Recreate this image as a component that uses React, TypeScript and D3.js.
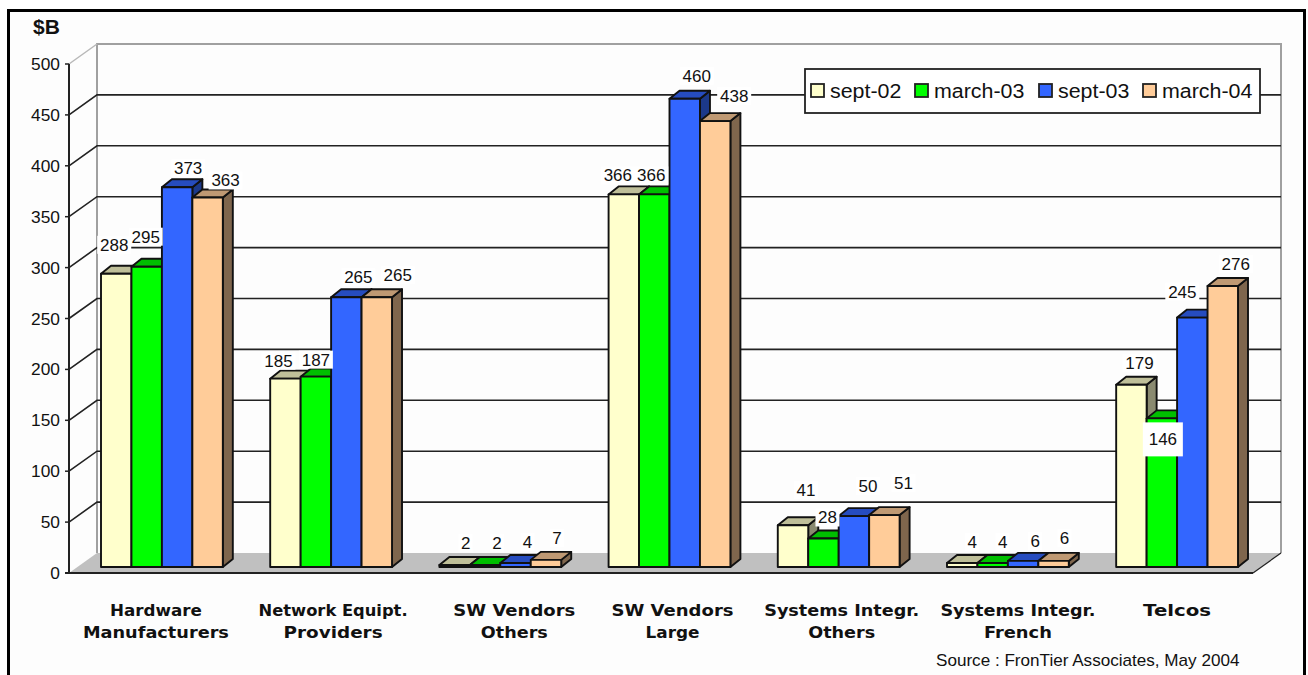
import React from "react";
import * as d3 from "d3";

const categories = [
  ["Hardware", "Manufacturers"],
  ["Network Equipt.", "Providers"],
  ["SW Vendors", "Others"],
  ["SW Vendors", "Large"],
  ["Systems Integr.", "Others"],
  ["Systems Integr.", "French"],
  ["Telcos"],
];
const seriesNames = ["sept-02", "march-03", "sept-03", "march-04"];
const sept02 = [288, 185, 2, 366, 41, 4, 179];
const march03 = [295, 187, 2, 366, 28, 4, 146];
const sept03 = [373, 265, 4, 460, 50, 6, 245];
const march04 = [363, 265, 7, 438, 51, 6, 276];
const yTicks = [0, 50, 100, 150, 200, 250, 300, 350, 400, 450, 500];

// Label placement relative to the top of its bar (group, then series): [dx, dy]
const labelNudges = [
  [[-2, -29], [-1, -30], [11, -19], [18, -17]],
  [[-7, -18], [0, -17], [12, -20], [21, -22]],
  [[11, -22], [12, -22], [12, -21], [11, -22]],
  [[-6, -19], [-3, -19], [12, -23], [19, -25]],
  [[13, -35], [4, -21], [14, -30], [19, -32]],
  [[10, -21], [10, -21], [12, -20], [11, -23]],
  [[8, -22], [1, 21], [-10, -26], [13, -22]],
];
const legendSwatchX = [811, 915, 1039, 1143];
const categoryShift = [-6, 2, 14, 3, 3, 10, 0];
const categoryWidths = [[92, 146], [149, 99], [122, 67], [122, 54], [155, 67], [155, 68], [68]];

const values = [sept02, march03, sept03, march04];
const fronts = ["#FFFFCC", "#00FF00", "#3366FF", "#FFCC99"];
const tops = ["#BFBF99", "#00BF00", "#264CBF", "#BF9973"];
const sides = ["#8A8A70", "#008A00", "#1C398A", "#7F664D"];

const W = 1308, H = 675;
const axisX = 69, axisBaseY = 573, axisTopY = 64;
const wallDx = 28, wallDy = -20;
const floorRight = 1253;
const barDx = 4, barDy = -6, depthDx = 10, depthDy = -8;
const sans = "'Liberation Sans', Arial, sans-serif";

const yAxis = d3.scaleLinear().domain([0, 500]).range([axisBaseY, axisTopY]);
const groupX = d3.scaleBand<number>()
  .domain(d3.range(categories.length))
  .range([97, 1234])
  .paddingInner(0.28)
  .paddingOuter(0);
const barX = d3.scaleBand<number>().domain(d3.range(4)).range([0, groupX.bandwidth()]);

const STROKE = "#111";

function Stretched({ x, y, sx = 1, anchor = "middle", size, weight, family = sans, fill = "#111", children }: any) {
  return (
    <text transform={`translate(${x},${y}) scale(${sx},1)`} textAnchor={anchor}
      fontFamily={family} fontSize={size} fontWeight={weight} fill={fill}>{children}</text>
  );
}

export default function App() {
  const back = (v: number) => yAxis(v) + wallDy;
  const poly = (pts: number[][]) => pts.map((p) => p.join(",")).join(" ");
  return (
    <svg width={W} height={H} style={{ position: "absolute", left: 0, top: 0, display: "block" }}>
      <rect width={W} height={H} fill="#fff" />
      <path d={`M8.5,675V10.5H1304.5V675`} fill="#fdfdfd" stroke="#000" strokeWidth={3} />

      {/* walls */}
      <polygon points={poly([[axisX, axisBaseY], [axisX + wallDx, back(0)], [floorRight + wallDx, back(0)], [floorRight, axisBaseY]])} fill="#C0C0C0" />
      <path d={`M${axisX + wallDx},${back(0)}V${back(500)}H${floorRight + wallDx}V${back(0)}`} fill="none" stroke="#A0A0A0" strokeWidth={2} />
      <path d={`M${axisX},${yAxis(500)}L${axisX + wallDx},${back(500)}`} stroke="#B8B8B8" strokeWidth={1.5} fill="none" />

      {yTicks.filter((t) => t > 0 && t < 500).map((t) => (
        <path key={t} d={`M${axisX},${yAxis(t)}L${axisX + wallDx},${back(t)}H${floorRight + wallDx}`} fill="none" stroke="#222" strokeWidth={1.6} />
      ))}
      <path d={`M${floorRight},${axisBaseY}L${floorRight + wallDx},${back(0)}`} stroke="#222" strokeWidth={1.2} fill="none" />

      {/* axes */}
      <path d={`M${axisX},${yAxis(500)}V${axisBaseY}`} stroke="#222" strokeWidth={2} fill="none" />
      <path d={`M${axisX - 4},${axisBaseY}H${floorRight}`} stroke="#222" strokeWidth={2.2} fill="none" />
      {yTicks.map((t) => (
        <g key={t}>
          <path d={`M${axisX - 4},${yAxis(t)}H${axisX}`} stroke="#222" strokeWidth={1.5} />
          <Stretched x={axisX - 9} y={yAxis(t) + 6} anchor="end" size={17} sx={1.02}>{t}</Stretched>
        </g>
      ))}

      {/* bars */}
      {categories.map((_, g) =>
        values.map((vals, s) => {
          const v = vals[g];
          const x0 = (groupX(g) as number) + (barX(s) as number) + barDx;
          const x1 = x0 + barX.bandwidth();
          const y0 = yAxis(0) + barDy;
          const y1 = yAxis(v) + barDy;
          return (
            <g key={`${g}-${s}`} stroke={STROKE} strokeWidth={1.9} strokeLinejoin="round">
              <polygon points={poly([[x1, y0], [x1 + depthDx, y0 + depthDy], [x1 + depthDx, y1 + depthDy], [x1, y1]])} fill={sides[s]} />
              <polygon points={poly([[x0, y1], [x0 + depthDx, y1 + depthDy], [x1 + depthDx, y1 + depthDy], [x1, y1]])} fill={tops[s]} />
              <rect x={x0} y={y1} width={x1 - x0} height={y0 - y1} fill={fronts[s]} />
            </g>
          );
        })
      )}

      {/* data labels */}
      {categories.map((_, g) =>
        values.map((vals, s) => {
          const v = vals[g];
          const cx = (groupX(g) as number) + (barX(s) as number) + barDx + barX.bandwidth() / 2;
          const [dx, dy] = labelNudges[g][s];
          const x = cx + dx, y = yAxis(v) + barDy + dy;
          const w = String(v).length * 10 + 4;
          const tall = s === 1 && g === 6;
          return (
            <g key={`${g}-${s}`}>
              <rect x={x - w / 2 - (tall ? 3 : 0)} y={y - (tall ? 17 : 9)} width={w + (tall ? 6 : 0)} height={tall ? 34 : 18} fill="#fff" />
              <Stretched x={x} y={y + 6} size={17}>{v}</Stretched>
            </g>
          );
        })
      )}

      {/* category labels */}
      {categories.map((lines, g) => {
        const cx = (groupX(g) as number) + groupX.bandwidth() / 2 + barDx - 3 + categoryShift[g] + 3;
        return lines.map((l, i) => (
          <text key={l + i} x={cx} y={616 + i * 22} textAnchor="middle" fontSize={16} fontWeight="bold"
            fontFamily="'DejaVu Sans', sans-serif" fill="#111"
            textLength={categoryWidths[g][i]} lengthAdjust="spacingAndGlyphs">{l}</text>
        ));
      })}

      {/* legend */}
      <rect x={805} y={69} width={455} height={44} fill="#fff" stroke="#222" strokeWidth={1.8} />
      {seriesNames.map((n, i) => {
        const lx = legendSwatchX[i];
        return (
          <g key={n}>
            <rect x={lx} y={84} width={13} height={13} fill={fronts[i]} stroke="#222" strokeWidth={1.8} />
            <Stretched x={lx + 19} y={98} anchor="start" size={20} sx={1.07}>{n}</Stretched>
          </g>
        );
      })}

      {/* titles */}
      <text x={33} y={34} fontFamily={sans} fontWeight="bold" fontSize={21} fill="#111">$B</text>
      <Stretched x={936} y={666} anchor="start" size={16} sx={1.07}>Source : FronTier Associates, May 2004</Stretched>
    </svg>
  );
}
